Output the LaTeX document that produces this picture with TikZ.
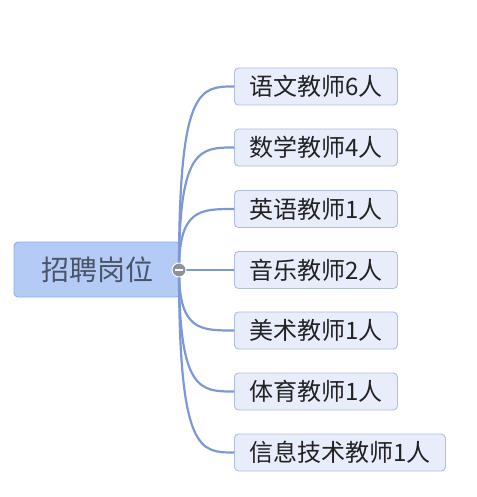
\documentclass[tikz,border=0pt]{standalone}
\usepackage{fontspec}
\newfontfamily\cjk{Noto Sans CJK SC}
\definecolor{rootfill}{HTML}{B4CBF6}
\definecolor{rootdraw}{HTML}{8DAEE6}
\definecolor{roottext}{HTML}{4A5469}
\definecolor{kidfill}{HTML}{E7EDFB}
\definecolor{kiddraw}{HTML}{AFBEDC}
\definecolor{kidtext}{HTML}{222222}
\definecolor{linkc}{HTML}{7C99D6}
\definecolor{knob}{HTML}{8E9298}
\tikzset{
  rootbox/.style={draw=rootdraw, fill=rootfill, rounded corners=4pt, line width=0.9pt,
    minimum width=166pt, minimum height=55pt, inner sep=0pt,
    font=\cjk\fontsize{28}{30}\selectfont, text=roottext},
  kidbox/.style={draw=kiddraw, fill=kidfill, rounded corners=4pt, line width=0.9pt,
    minimum height=37pt, inner sep=0pt, anchor=west,
    font=\cjk\fontsize{24}{26}\selectfont, text=kidtext},
  link/.style={draw=linkc, line width=2.2pt},
}
\begin{document}
\begin{tikzpicture}[x=1pt,y=-1pt]
\useasboundingbox (0,0) rectangle (476,497);
\node[rootbox] (root) at (97,269.5) {招聘岗位};
\coordinate (r) at (179,270);
\node[kidbox, minimum width=163pt] (k1) at (234,86.5) {语文教师6人};
\node[kidbox, minimum width=163pt] (k2) at (234,147.5) {数学教师4人};
\node[kidbox, minimum width=163pt] (k3) at (234,209) {英语教师1人};
\node[kidbox, minimum width=163pt] (k4) at (234,270) {音乐教师2人};
\node[kidbox, minimum width=163pt] (k5) at (234,330.5) {美术教师1人};
\node[kidbox, minimum width=163pt] (k6) at (234,391.5) {体育教师1人};
\node[kidbox, minimum width=211pt] (k7) at (234,452.5) {信息技术教师1人};
\foreach \k in {k1,k2,k3,k5,k6,k7}{
  \draw[link] (r) .. controls (r |- \k.west) and ([xshift=-34pt]\k.west) .. (\k.west);
}
\draw[link] (r) -- (k4.west);
\node[circle, fill=knob, draw=white, line width=0.9pt, minimum size=14pt, inner sep=0pt] (knobc) at (r) {};
\draw[white, line width=1.8pt] ([xshift=-3.8pt]knobc.center) -- ([xshift=3.8pt]knobc.center);
\end{tikzpicture}
\end{document}
